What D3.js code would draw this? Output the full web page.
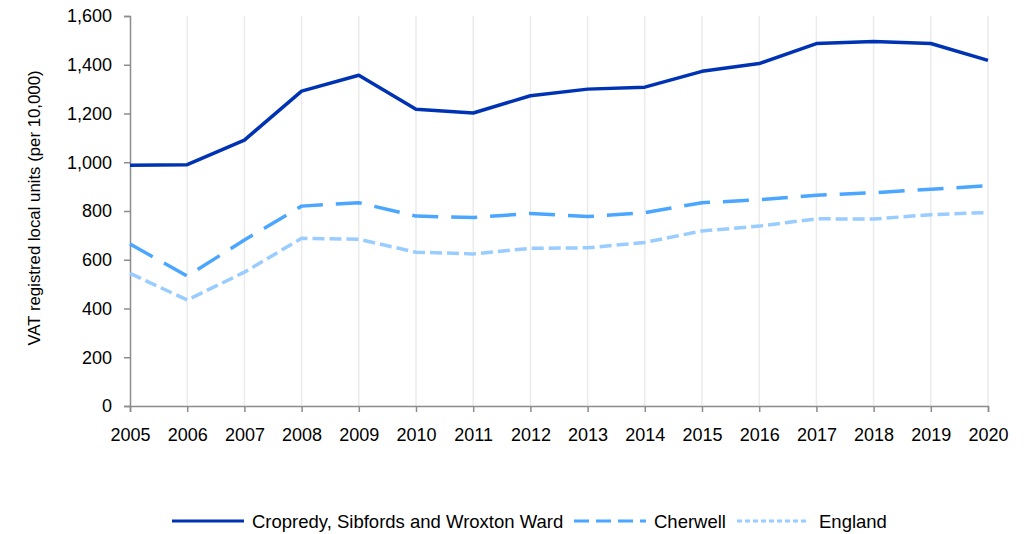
<!DOCTYPE html>
<html>
<head>
<meta charset="utf-8">
<script src="https://cdn.jsdelivr.net/npm/d3@7"></script>
<style>
  html, body { margin: 0; padding: 0; background: #fff; }
  svg text { font-family: "Liberation Sans", Arial, sans-serif; fill: #000; }
</style>
</head>
<body>
<svg id="chart" width="1027" height="534"></svg>
<script>
// VAT registered local units per 10,000, 2005–2020
const years = [2005, 2006, 2007, 2008, 2009, 2010, 2011, 2012, 2013, 2014, 2015, 2016, 2017, 2018, 2019, 2020];
const cropredy = [988, 990, 1091, 1292, 1357, 1217, 1202, 1273, 1300, 1308, 1373, 1405, 1487, 1495, 1487, 1418];
const cherwell = [665, 533, 681, 820, 834, 779, 773, 790, 777, 793, 834, 846, 865, 875, 889, 904];
const england = [544, 435, 549, 688, 684, 631, 624, 647, 649, 671, 718, 738, 768, 767, 785, 794];
const yTicks = [0, 200, 400, 600, 800, 1000, 1200, 1400, 1600];
const seriesNames = ["Cropredy, Sibfords and Wroxton Ward", "Cherwell", "England"];

const series = [
  { name: seriesNames[0], values: cropredy, color: "#0033b3", dash: null, legendDash: null },
  { name: seriesNames[1], values: cherwell, color: "#4aa6ff", dash: "26,13", legendDash: "15,7" },
  { name: seriesNames[2], values: england, color: "#99ccff", dash: "12,5", legendDash: "5,3" }
];

const svg = d3.select("#chart");
const plot = { left: 130, right: 988, top: 16, bottom: 406 };
const tickFont = 18;

const x = d3.scaleLinear().domain([years[0], years[years.length - 1]]).range([plot.left, plot.right]);
const y = d3.scaleLinear().domain([0, 1600]).range([plot.bottom, plot.top]);

// vertical gridlines at each year
svg.append("g")
  .selectAll("line")
  .data(years.slice(1))
  .join("line")
  .attr("x1", d => x(d)).attr("x2", d => x(d))
  .attr("y1", plot.top).attr("y2", plot.bottom)
  .attr("stroke", "#ebebeb").attr("stroke-width", 1.5);

// y axis
const yAxis = svg.append("g")
  .attr("transform", `translate(${plot.left},0)`)
  .call(d3.axisLeft(y).tickValues(yTicks).tickSize(6).tickPadding(12).tickFormat(d3.format(",")));
yAxis.select(".domain").attr("stroke", "#8c8c8c").attr("stroke-width", 1.5);
yAxis.selectAll(".tick line").attr("stroke", "#8c8c8c").attr("stroke-width", 1.5);
yAxis.selectAll("text").attr("font-size", tickFont).attr("font-family", "Liberation Sans, Arial, sans-serif").attr("fill", "#000");

// x axis
const xAxis = svg.append("g")
  .attr("transform", `translate(0,${plot.bottom})`)
  .call(d3.axisBottom(x).tickValues(years).tickSize(6).tickPadding(16).tickFormat(d3.format("d")));
xAxis.select(".domain").attr("stroke", "#8c8c8c").attr("stroke-width", 1.5);
xAxis.selectAll(".tick line").attr("stroke", "#8c8c8c").attr("stroke-width", 1.5);
xAxis.selectAll("text").attr("font-size", tickFont).attr("font-family", "Liberation Sans, Arial, sans-serif").attr("fill", "#000");

// y axis title
svg.append("text")
  .attr("transform", `translate(40,208) rotate(-90)`)
  .attr("text-anchor", "middle")
  .attr("font-size", 16.8)
  .text("VAT registred local units (per 10,000)");

// series lines
const line = d3.line()
  .x((d, i) => x(years[i]))
  .y(d => y(d));

svg.append("g")
  .selectAll("path")
  .data(series.slice().reverse())
  .join("path")
  .attr("d", d => line(d.values))
  .attr("fill", "none")
  .attr("stroke", d => d.color)
  .attr("stroke-width", 3.5)
  .attr("stroke-linejoin", "round")
  .attr("stroke-dasharray", d => d.dash);

// legend
const legendY = 521;
const legendX = [172, 574, 737];
const legend = svg.append("g");
series.forEach((s, i) => {
  legend.append("line")
    .attr("x1", legendX[i]).attr("x2", legendX[i] + 72)
    .attr("y1", legendY).attr("y2", legendY)
    .attr("stroke", s.color)
    .attr("stroke-width", 3)
    .attr("stroke-dasharray", s.legendDash);
  legend.append("text")
    .attr("x", legendX[i] + 80 + (i === 2 ? 2 : 0))
    .attr("y", legendY + 6.5)
    .attr("font-size", 18.5)
    .text(s.name);
});
</script>
</body>
</html>
